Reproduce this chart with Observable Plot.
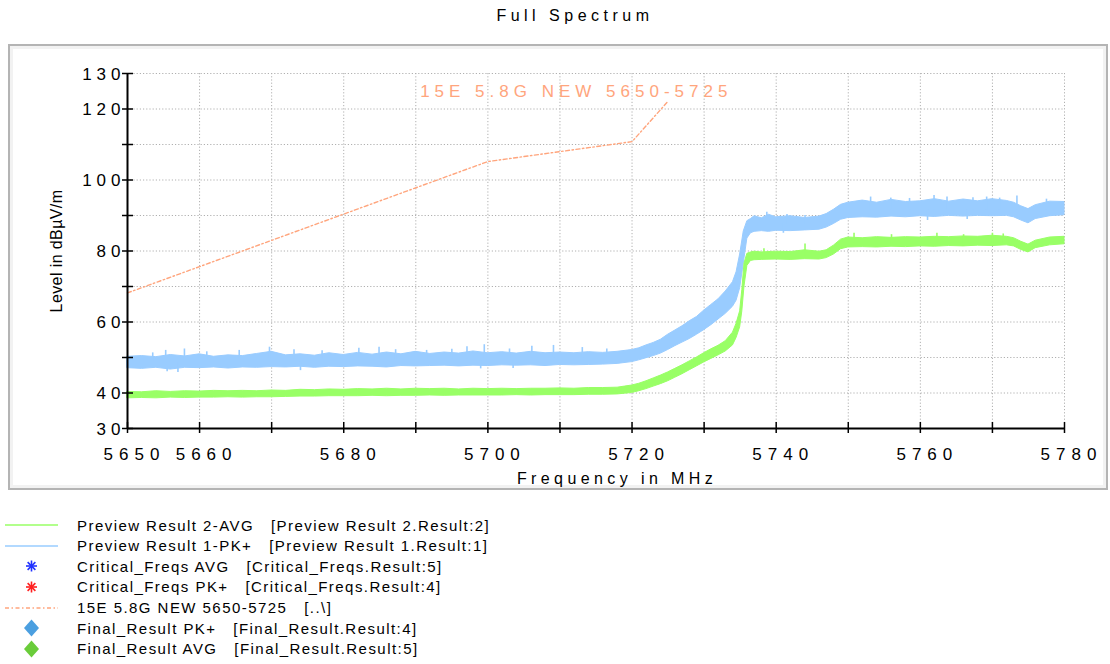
<!DOCTYPE html>
<html>
<head>
<meta charset="utf-8">
<script src="https://cdn.jsdelivr.net/npm/d3@7"></script>
<script src="https://cdn.jsdelivr.net/npm/@observablehq/plot@0.6"></script>
<style>
  html, body { margin: 0; padding: 0; background: #fff; }
  body { width: 1110px; height: 664px; overflow: hidden; font-family: "Liberation Sans", Arial, sans-serif; }
  #title { height: 40px; line-height: 32px; font-size: 16px; letter-spacing: 4.5px; text-align: center; padding-left: 40px; box-sizing: border-box; color: #000; }
  #chart { position: relative; width: 1110px; height: 456px; }
  #frame { position: absolute; left: 8px; top: 4px; width: 1100px; height: 446px; box-sizing: border-box;
           border: 2px solid #b4b4b4; box-shadow: inset 0 0 0 3px #f2f2f2; }
  #chart svg { position: absolute; left: 0; top: 0; }
  #legend { padding-top: 18.7px; }
  .row { display: flex; align-items: center; height: 20.67px; }
  .sym { width: 77px; height: 20px; flex: none; }
  .lab { font-size: 15px; letter-spacing: 1.45px; white-space: pre; color: #000; }
</style>
</head>
<body>
<div id="title">Full Spectrum</div>
<div id="chart"><div id="frame"></div></div>
<div id="legend"></div>
<script>
// ---------- data ----------
const xTicks = [5650, 5660, 5670, 5680, 5690, 5700, 5710, 5720, 5730, 5740, 5750, 5760, 5770, 5780];
const xTickLabels = [5650, 5660, 5680, 5700, 5720, 5740, 5760, 5780];
const yTicks = [30, 40, 50, 60, 70, 80, 90, 100, 110, 120, 130];
const yTickLabels = [30, 40, 60, 80, 100, 120, 130];

// Preview Result 1-PK+ (band: low / high envelope, dBµV/m)
const pkFreq = [5650,5652,5654,5656,5658,5660,5662,5664,5666,5668,5670,5672,5674,5676,5678,5680,5682,5684,5686,5688,5690,5692,5694,5696,5698,5700,5702,5704,5706,5708,5710,5712,5714,5716,5718,5720,5721,5722,5723,5724,5725,5726,5727,5728,5729,5730,5731,5732,5733,5734,5734.5,5735,5735.5,5736,5736.5,5737,5738,5739,5740,5742,5744,5746,5747,5748,5749,5750,5752,5754,5756,5758,5760,5762,5764,5766,5768,5770,5772,5773,5774,5775,5776,5778,5780];
const pkLow  = [47.0,46.8,47.1,46.6,47.1,47.0,47.2,46.9,47.2,47.1,47.3,47.2,47.4,47.1,47.4,47.3,47.5,47.4,47.2,47.6,47.5,47.6,47.7,47.5,47.7,47.6,47.8,47.7,47.8,47.6,47.9,47.8,47.9,48.0,48.2,48.7,49.2,49.8,50.4,51.1,52.1,53.2,54.2,55.2,56.4,57.7,59.1,60.7,62.3,64.3,66.0,69.5,76.5,83.5,85.0,85.4,85.6,85.4,85.7,85.6,85.8,86.0,86.6,87.6,88.8,89.3,89.5,89.4,89.7,89.5,89.8,89.6,89.9,89.7,89.9,89.8,89.9,89.5,88.6,87.8,89.0,89.8,90.1];
const pkHigh = [50.2,50.4,50.1,50.7,50.3,50.9,50.2,50.6,50.4,51.0,51.6,50.6,50.9,50.5,51.2,50.7,51.3,50.8,51.4,50.9,51.6,51.0,51.4,51.1,51.7,51.2,51.5,51.1,51.6,51.2,51.4,51.2,51.5,51.3,51.6,52.1,52.6,53.4,54.1,55.0,56.4,57.6,58.8,60.2,61.4,63.2,64.8,66.4,68.6,71.2,74.0,79.0,85.5,88.4,89.0,89.8,89.2,90.2,89.5,89.8,89.3,89.7,90.4,91.6,93.0,93.6,94.2,93.6,94.4,93.8,94.0,94.6,93.9,94.5,94.0,94.6,94.1,93.6,92.6,91.8,92.9,93.9,93.8];
// PK+ narrow noise peaks above the band (freq, band level, peak level)
const pkPeakFreq = [5653.5,5655.3,5657.9,5661.0,5665.5,5669.7,5673.1,5677.0,5682.1,5684.9,5687.2,5691.5,5695.0,5697.1,5699.5,5703.0,5706.1,5709.1,5713.1,5716.5,5738.7,5741.5,5744.0,5753.1,5755.9,5758.5,5761.9,5763.7,5767.3,5769.2,5771.0,5773.4,5777.5];
const pkPeakBase = [49,49,49,49,49,49.5,49.5,49.5,49.5,49.5,49.5,49.5,49.5,49.5,49.5,49.5,49.8,49.8,49.8,49.8,87.5,87.5,87.5,91.5,91.5,91.5,91.5,91.5,91.5,91.5,91.5,91.5,91.5];
const pkPeakTop  = [51.3,52.0,52.4,51.6,52.0,52.9,52.2,51.9,52.6,52.9,52.2,52.0,52.3,53.0,53.6,52.4,53.2,53.4,52.8,52.4,90.9,90.3,90.0,95.2,94.9,94.8,95.6,95.2,95.0,95.2,94.9,95.5,94.6];
// PK+ narrow dips below the band
const pkDipFreq = [5655.5,5657.0,5674.0,5699.0,5703.5,5741.0,5761.0,5766.5];
const pkDipBase = [48.5,48.5,48.8,49,49,87.5,91.5,91.5];
const pkDipLow  = [46.0,45.8,46.3,46.8,46.9,85.0,88.6,88.9];

// Preview Result 2-AVG (band: low / high envelope, dBµV/m)
const avFreq = [5650,5652,5654,5656,5658,5660,5662,5664,5666,5668,5670,5672,5674,5676,5678,5680,5682,5684,5686,5688,5690,5692,5694,5696,5698,5700,5702,5704,5706,5708,5710,5712,5714,5716,5718,5719,5720,5721,5722,5723,5724,5725,5726,5727,5728,5729,5730,5731,5732,5733,5734,5734.5,5735,5735.3,5735.6,5736,5736.5,5737,5738,5740,5742,5744,5746,5747,5748,5749,5750,5752,5754,5756,5758,5760,5762,5764,5766,5768,5770,5772,5773,5774,5775,5776,5778,5780];
const avLow  = [38.5,38.6,38.5,38.7,38.6,38.7,38.7,38.8,38.7,38.8,38.8,38.9,39.0,39.0,39.1,39.1,39.1,39.2,39.1,39.2,39.2,39.3,39.2,39.3,39.3,39.3,39.3,39.4,39.3,39.4,39.4,39.4,39.5,39.5,39.6,39.8,40.0,40.5,41.1,41.8,42.5,43.3,44.3,45.3,46.4,47.5,48.6,49.6,50.6,51.7,53.4,55.5,58.5,63.0,70.0,75.8,77.2,77.4,77.5,77.6,77.5,77.7,77.6,78.0,79.0,80.5,81.0,81.1,81.0,81.2,81.1,81.3,81.2,81.4,81.3,81.5,81.4,81.6,81.3,80.3,79.6,80.8,81.6,81.9];
const avHigh = [40.3,40.2,40.5,40.3,40.5,40.4,40.6,40.5,40.6,40.5,40.7,40.6,40.9,40.8,41.0,40.9,41.1,41.0,41.2,41.0,41.2,41.1,41.2,41.0,41.2,41.1,41.2,41.1,41.2,41.2,41.3,41.2,41.4,41.4,41.5,41.8,42.1,42.6,43.3,44.1,44.9,45.8,46.8,47.8,48.9,50.0,51.2,52.3,53.3,54.6,57.0,59.5,63.0,69.0,76.5,79.2,79.6,79.8,79.6,79.8,79.7,80.2,79.8,80.2,81.5,83.2,83.8,83.6,83.9,83.7,83.9,83.8,84.0,83.9,84.1,84.0,84.3,84.0,83.6,82.6,81.8,82.9,83.8,84.0];
// AVG narrow peaks above the band
const avPeakFreq = [5738.3,5744.0,5750.8,5756.0,5762.3,5766.0,5770.0,5771.5];
const avPeakBase = [78.5,78.5,82.3,82.3,82.3,82.3,82.3,82.3];
const avPeakTop  = [80.6,82.0,85.0,84.6,85.0,84.6,85.0,84.8];

// Limit line "15E 5.8G NEW 5650-5725"
const limitFreq = [5650, 5700, 5720, 5725];
const limitLevel = [68.2, 105.2, 110.8, 122.2];
const limitName = "15E 5.8G NEW 5650-5725";
const limitLabelAt = [{f: 5690.6, v: 125.0}];

const yTitle = "Level in dBµV/m";
const xTitle = "Frequency in MHz";

const legendItems = [
  {kind: "line", color: "#99ff66", name: "Preview Result 2-AVG", ref: "[Preview Result 2.Result:2]"},
  {kind: "line", color: "#99ccff", name: "Preview Result 1-PK+", ref: "[Preview Result 1.Result:1]"},
  {kind: "star", color: "#2233ff", name: "Critical_Freqs AVG", ref: "[Critical_Freqs.Result:5]"},
  {kind: "star", color: "#ff2020", name: "Critical_Freqs PK+", ref: "[Critical_Freqs.Result:4]"},
  {kind: "dash", color: "#ffa57d", name: "15E 5.8G NEW 5650-5725", ref: "[..\\]"},
  {kind: "diamond", color: "#4b9fe0", name: "Final_Result PK+", ref: "[Final_Result.Result:4]"},
  {kind: "diamond", color: "#6acc3a", name: "Final_Result AVG", ref: "[Final_Result.Result:5]"}
];

// ---------- tables ----------
const pk = pkFreq.map((f, i) => ({f, lo: pkLow[i], hi: pkHigh[i]}));
const av = avFreq.map((f, i) => ({f, lo: avLow[i], hi: avHigh[i]}));
const pkPeaks = pkPeakFreq.map((f, i) => ({f, a: pkPeakBase[i], b: pkPeakTop[i]}))
  .concat(pkDipFreq.map((f, i) => ({f, a: pkDipBase[i], b: pkDipLow[i]})));
const avPeaks = avPeakFreq.map((f, i) => ({f, a: avPeakBase[i], b: avPeakTop[i]}));
const limit = limitFreq.map((f, i) => ({f, v: limitLevel[i]}));
const limitLabel = limitLabelAt.map(d => ({...d, text: limitName}));

const pkColor = "#99ccff", avColor = "#99ff66", limitColor = "#ffa57d";
const gridStyle = {stroke: "#b0b0b0", strokeOpacity: 1, strokeWidth: 1, strokeDasharray: "1.2,2"};
const fmt = d => String(d);

const plot = Plot.plot({
  width: 1110, height: 456,
  marginTop: 33, marginBottom: 68, marginLeft: 127, marginRight: 46,
  x: {domain: [5650, 5780]},
  y: {domain: [30, 130]},
  style: {fontFamily: "'Liberation Sans', Arial, sans-serif", fontSize: "17px", background: "transparent", color: "#000", overflow: "visible"},
  marks: [
    Plot.gridX(xTicks, gridStyle),
    Plot.gridY(yTicks, gridStyle),
    Plot.areaY(pk, {x: "f", y1: "lo", y2: "hi", fill: pkColor, stroke: pkColor, strokeWidth: 1}),
    Plot.ruleX(pkPeaks, {x: "f", y1: "a", y2: "b", stroke: pkColor, strokeWidth: 1.6}),
    Plot.areaY(av, {x: "f", y1: "lo", y2: "hi", fill: avColor, stroke: avColor, strokeWidth: 1}),
    Plot.ruleX(avPeaks, {x: "f", y1: "a", y2: "b", stroke: avColor, strokeWidth: 1.6}),
    Plot.line(limit, {x: "f", y: "v", stroke: limitColor, strokeWidth: 1.4, strokeDasharray: "4,2.5,1.5,2.5"}),
    Plot.text(limitLabel, {x: "f", y: "v", text: "text", textAnchor: "start", fill: limitColor, fontSize: 17}),
    Plot.ruleX([5650], {stroke: "#000", strokeWidth: 2}),
    Plot.ruleY([30], {stroke: "#000", strokeWidth: 2}),
    Plot.axisY(yTicks, {tickSize: 11, dx: 6, fill: "none", stroke: "#000", strokeWidth: 1.5, label: null}),
    Plot.axisY(yTickLabels, {tickSize: 0, tickPadding: 2, dy: 1, label: null, fontSize: 17, tickFormat: fmt}),
    Plot.axisX(xTicks, {tickSize: 11, dy: -6, fill: "none", stroke: "#000", strokeWidth: 1.5, label: null}),
    Plot.axisX(xTickLabels, {tickSize: 0, tickPadding: 19, dx: 7, label: null, fontSize: 17, tickFormat: fmt}),
    Plot.text([yTitle], {frameAnchor: "left", textAnchor: "middle", rotate: -90, dx: -71, fontSize: 16}),
    Plot.text([xTitle], {frameAnchor: "bottom", textAnchor: "middle", dy: 55, dx: 21, fontSize: 16})
  ]
});

d3.select(plot).selectAll("text").each(function() {
  const t = this.textContent;
  let ls = "5px";
  if (t === yTitle) ls = "0.4px";
  else if (t === xTitle) ls = "4.4px";
  else if (t === limitName) ls = "5px";
  else if (/^5\d\d\d$/.test(t)) ls = "6px";
  this.style.letterSpacing = ls;
});

document.getElementById("chart").appendChild(plot);

// ---------- legend ----------
const legend = d3.select("#legend");
for (const item of legendItems) {
  const row = legend.append("div").attr("class", "row");
  const s = row.append("svg").attr("class", "sym").attr("width", 77).attr("height", 20);
  if (item.kind === "line") {
    s.append("line").attr("x1", 5).attr("x2", 58).attr("y1", 10).attr("y2", 10).attr("stroke", item.color).attr("stroke-width", 1.5);
  } else if (item.kind === "dash") {
    s.append("line").attr("x1", 5).attr("x2", 58).attr("y1", 10).attr("y2", 10).attr("stroke", item.color).attr("stroke-width", 1.5).attr("stroke-dasharray", "4,2.5,1.5,2.5");
  } else if (item.kind === "star") {
    const g = s.append("g").attr("transform", "translate(31.5,10)").attr("stroke", item.color).attr("stroke-width", 1.6);
    for (const a of [0, 45, 90, 135]) g.append("line").attr("x1", -5.5).attr("x2", 5.5).attr("y1", 0).attr("y2", 0).attr("transform", `rotate(${a})`);
  } else if (item.kind === "diamond") {
    s.append("path").attr("d", "M31.5,1.5 L39,10 L31.5,18.5 L24,10 Z").attr("fill", item.color);
  }
  row.append("span").attr("class", "lab").text(item.name + "   " + item.ref);
}
</script>
</body>
</html>
